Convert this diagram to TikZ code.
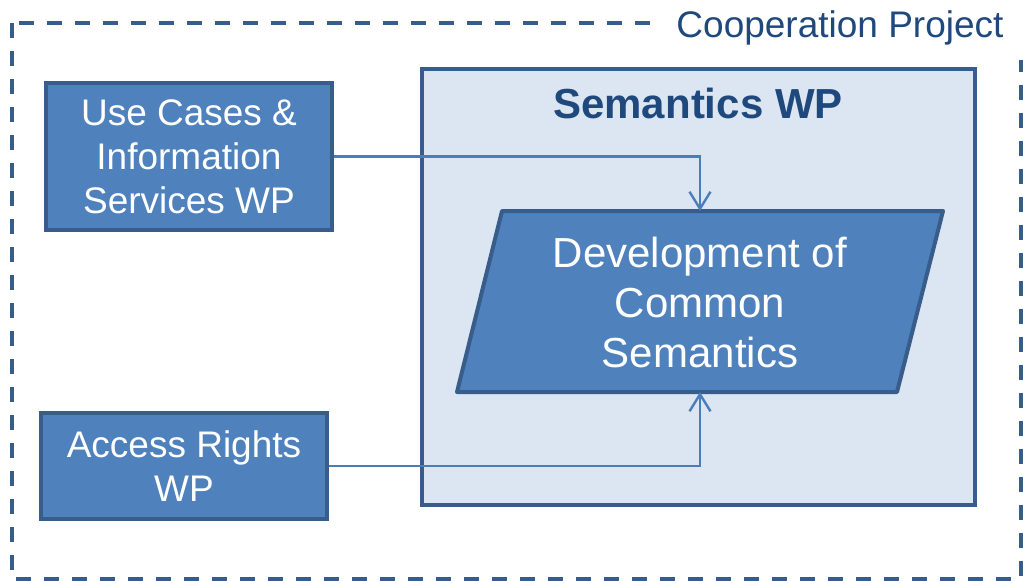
\documentclass[tikz,border=0pt]{standalone}
\usepackage{fontspec}
\setmainfont{Liberation Sans}
\usetikzlibrary{arrows.meta,positioning}
\definecolor{wpfill}{HTML}{4F81BD}
\definecolor{wpline}{HTML}{385D8A}
\definecolor{semfill}{HTML}{DCE6F2}
\definecolor{titleblue}{HTML}{1F497D}
\definecolor{flowblue}{HTML}{4A7EBB}
\begin{document}
	\begin{tikzpicture}[x=1pt, y=-1pt, font=\fontsize{37}{44}\selectfont,
		wpbox/.style={draw=wpline, fill=wpfill, line width=4pt, text=white, align=center, inner sep=0pt},
		flow/.style={draw=flowblue, line width=2.4pt, -{Straight Barb[length=17pt,width=21pt]}}]
		\useasboundingbox (0,0) rectangle (1023,581);
		% outer frame
		\draw[wpline, line width=3.5pt, dash pattern=on 15pt off 13pt] (12,23) rectangle (1021,579);
		\node[fill=white, text=titleblue, minimum width=370pt, minimum height=64pt] (project) at (840,28) {Cooperation Project};
		
		\node[draw=wpline, fill=semfill, line width=4.5pt, minimum width=553pt, minimum height=436pt] (semantics) at (698.5,287) {};
		\node[text=titleblue, font=\fontsize{42}{50}\selectfont\bfseries] (semtitle) at (698,103) {Semantics WP};
		
		\node[wpbox, minimum width=286pt, minimum height=147pt] (usecases) at (189,156.5) {Use Cases \&\\Information\\Services WP};
		\node[wpbox, minimum width=286pt, minimum height=106pt] (access) at (184,466) {Access Rights\\WP};
		
		% parallelogram
		\coordinate (ptop) at (700,211);
		\coordinate (pbottom) at (677,392);
		\draw[wpline, fill=wpfill, line width=4pt, line join=round] (502,211) -- (943,211) -- (897,392) -- (457,392) -- cycle;
		\node[text=white, align=center, font=\fontsize{42}{50}\selectfont] (common) at (700,302) {Development of\\Common\\Semantics};
		
		\draw[flow] (usecases.east) -| (ptop);
		\draw[flow] (access.east) -| (ptop |- pbottom);
	\end{tikzpicture}
\end{document}
